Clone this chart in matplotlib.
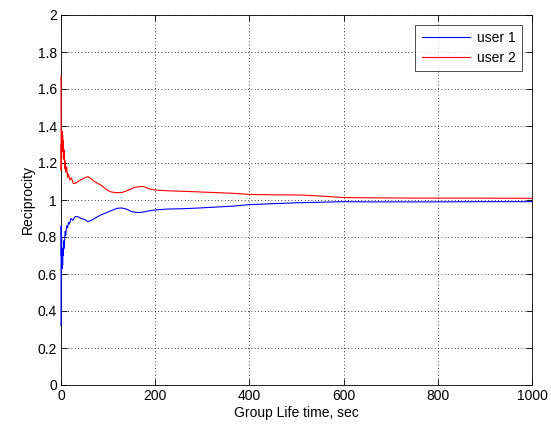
import matplotlib
matplotlib.use('Agg')
import matplotlib.pyplot as plt

plt.rcParams['font.family'] = ['Liberation Sans', 'DejaVu Sans']
plt.rcParams['font.size'] = 10

# Reciprocity over group lifetime, one series per user
user1_t = [0, 0.4, 0.8, 1.2, 1.6, 2.0, 2.5, 3.0, 3.5, 4.0, 5.0, 6.0, 7.0, 8.0, 9.0,
           10, 12, 14, 16, 18, 21, 25, 30, 36, 43, 50, 57, 64, 71, 78, 85,
           95, 106, 119, 129, 140, 150, 164, 175, 188, 200, 225, 260, 295,
           330, 366, 400, 450, 500, 550, 600, 650, 700, 800, 900, 1000]
user1_r = [0.32, 0.86, 0.70, 0.80, 0.66, 0.74, 0.63, 0.69, 0.65, 0.72, 0.70, 0.78, 0.74, 0.80, 0.83,
           0.81, 0.86, 0.85, 0.88, 0.87, 0.90, 0.89, 0.91, 0.91, 0.90, 0.895, 0.883, 0.89, 0.90, 0.91, 0.92,
           0.93, 0.942, 0.955, 0.957, 0.95, 0.937, 0.932, 0.935, 0.942, 0.946, 0.951, 0.953, 0.957,
           0.962, 0.967, 0.975, 0.98, 0.985, 0.988, 0.991, 0.99, 0.99, 0.99, 0.991, 0.991]

user2_t = [0, 0.4, 0.8, 1.2, 1.6, 2.0, 2.5, 3.0, 3.5, 4.0, 5.0, 6.0, 7.0, 8.0, 9.0,
           10, 12, 14, 16, 19, 22, 26, 30, 36, 43, 50, 57, 64, 71, 78, 85,
           95, 104, 115, 129, 140, 153, 165, 175, 188, 200, 225, 260, 300,
           330, 366, 400, 450, 508, 560, 600, 650, 700, 800, 900, 1000]
user2_r = [1.67, 1.16, 1.30, 1.22, 1.36, 1.28, 1.37, 1.30, 1.35, 1.26, 1.32, 1.22, 1.27, 1.17, 1.21,
           1.15, 1.18, 1.12, 1.14, 1.108, 1.12, 1.09, 1.09, 1.10, 1.11, 1.12, 1.126, 1.115, 1.10, 1.09, 1.08,
           1.06, 1.045, 1.04, 1.04, 1.05, 1.065, 1.072, 1.073, 1.06, 1.054, 1.05, 1.047, 1.043,
           1.04, 1.036, 1.03, 1.028, 1.027, 1.02, 1.013, 1.012, 1.011, 1.01, 1.01, 1.009]

x_ticks = [0, 200, 400, 600, 800, 1000]
y_ticks = [0, 0.2, 0.4, 0.6, 0.8, 1, 1.2, 1.4, 1.6, 1.8, 2]
y_labels = ['0', '0.2', '0.4', '0.6', '0.8', '1', '1.2', '1.4', '1.6', '1.8', '2']

fig = plt.figure(figsize=(5.51, 4.30), dpi=100)
ax = fig.add_axes([61 / 551, 45 / 430, 471 / 551, 370 / 430])

# lines sit above the spines so the jump at t=0 stays visible
ax.plot(user1_t, user1_r, color='#0000ff', lw=0.8, label='user 1', zorder=3, clip_on=False)
ax.plot(user2_t, user2_r, color='#ff0000', lw=0.8, label='user 2', zorder=3, clip_on=False)

ax.set_xlim(0, 1000)
ax.set_ylim(0, 2)
ax.set_xticks(x_ticks)
ax.set_yticks(y_ticks)
ax.set_yticklabels(y_labels)
ax.tick_params(direction='in', length=4, width=0.6, top=True, right=True, pad=3)
ax.grid(True, linestyle=(0, (1, 3)), color='black', linewidth=0.6)
for s in ax.spines.values():
    s.set_linewidth(0.6)

ax.set_xlabel('Group Life time, sec', labelpad=2)
ax.set_ylabel('Reciprocity', labelpad=2)

leg = ax.legend(loc='upper right', frameon=True, fancybox=False, handlelength=3.5,
                borderaxespad=0.7, borderpad=0.45, labelspacing=0.45, handletextpad=0.5)
leg.get_frame().set_edgecolor('black')
leg.get_frame().set_linewidth(0.6)
leg.set_zorder(5)

fig.savefig('out.png', dpi=100)
